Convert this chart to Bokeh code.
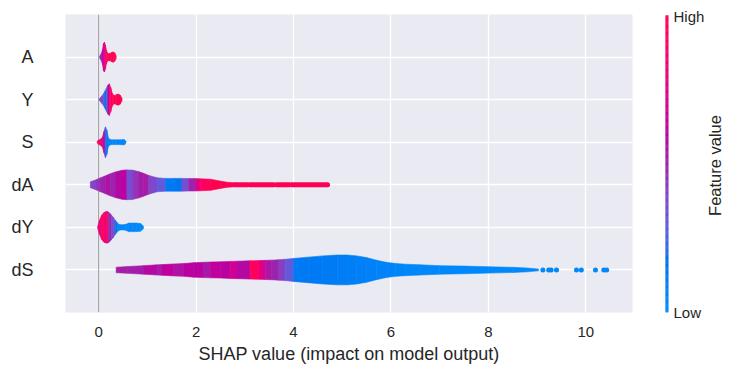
import math
import numpy as np
from bokeh.plotting import figure
from bokeh.models import ColumnDataSource, FixedTicker, Span, Range1d
from bokeh.transform import linear_cmap
from bokeh.layouts import row
from bokeh.core.properties import value
from bokeh.embed import file_html
from bokeh.resources import INLINE

# ---------------- data ----------------
features = ["dS", "dY", "dA", "S", "Y", "A"]          # bottom -> top
x_ticks = [0, 2, 4, 6, 8, 10]
x_label = "SHAP value (impact on model output)"
cbar_low, cbar_high, cbar_title = "Low", "High", "Feature value"

# violin outlines: SHAP value, half width, colour (feature value 0..1) per segment
A_x = [0.02, 0.05, 0.08, 0.10, 0.12, 0.14, 0.16, 0.18, 0.21, 0.24, 0.27, 0.30, 0.33, 0.36]
A_w = [0.02, 0.07, 0.17, 0.32, 0.35, 0.28, 0.16, 0.10, 0.08, 0.09, 0.11, 0.12, 0.10, 0.03]
A_c = [0.45, 0.5, 0.6, 0.7, 0.8, 0.9, 0.95, 1.0, 1.0, 1.0, 1.0, 1.0, 1.0]

Y_x = [0.01, 0.04, 0.07, 0.10, 0.13, 0.16, 0.19, 0.22, 0.25, 0.28, 0.31, 0.34, 0.37, 0.40, 0.44, 0.48]
Y_w = [0.01, 0.05, 0.09, 0.14, 0.20, 0.27, 0.34, 0.37, 0.28, 0.15, 0.10, 0.10, 0.12, 0.13, 0.11, 0.03]
Y_c = [0.4, 0.4, 0.35, 0.25, 0.15, 0.3, 0.6, 0.85, 0.95, 1.0, 1.0, 1.0, 1.0, 1.0, 1.0]

S_x = [-0.03, 0.0, 0.04, 0.08, 0.11, 0.14, 0.17, 0.20, 0.24, 0.28, 0.35, 0.42, 0.48, 0.53, 0.56]
S_w = [0.02, 0.05, 0.07, 0.12, 0.25, 0.36, 0.28, 0.10, 0.06, 0.055, 0.055, 0.055, 0.06, 0.06, 0.02]
S_c = [0.9, 0.9, 0.8, 0.7, 0.5, 0.2, 0.1, 0.08, 0.05, 0.03, 0.03, 0.03, 0.03, 0.03]

dA_x = [-0.17, -0.07, 0.03, 0.14, 0.24, 0.34, 0.48, 0.58, 0.69, 0.82, 0.92, 1.03, 1.2, 1.37,
        1.57, 1.71, 1.85, 1.99, 2.09, 2.3, 2.5, 2.64, 2.81]
dA_w = [0.07, 0.11, 0.16, 0.21, 0.26, 0.30, 0.34, 0.35, 0.345, 0.31, 0.27, 0.22, 0.165, 0.15,
        0.15, 0.15, 0.145, 0.145, 0.14, 0.13, 0.086, 0.06, 0.045]
dA_c = [0.38, 0.45, 0.5, 0.56, 0.5, 0.58, 0.6, 0.35, 0.45, 0.53, 0.53, 0.38, 0.3, 0.12,
        0.15, 0.35, 0.5, 0.75, 0.95, 1.0, 1.0, 1.0]
# dA outlier tail (runs of dots)
dA_tail_start = [2.81, 3.10, 3.65, 3.96]
dA_tail_end = [3.05, 3.59, 3.91, 4.70]
dA_tail_c = [0.98, 0.98, 0.98, 0.98]

dY_x = [-0.02, 0.02, 0.06, 0.10, 0.13, 0.16, 0.18, 0.20, 0.23, 0.26, 0.30, 0.34, 0.38, 0.42,
        0.46, 0.50, 0.54, 0.58, 0.62, 0.70, 0.78, 0.86, 0.92]
dY_w = [0.02, 0.17, 0.28, 0.34, 0.36, 0.37, 0.37, 0.36, 0.33, 0.29, 0.24, 0.17, 0.11, 0.07,
        0.06, 0.06, 0.065, 0.08, 0.10, 0.10, 0.10, 0.09, 0.03]
dY_c = [0.8, 0.8, 0.95, 0.95, 0.8, 0.8, 0.95, 0.5, 0.5, 0.38, 0.35, 0.15, 0.03, 0.03,
        0.03, 0.03, 0.03, 0.03, 0.03, 0.03, 0.03, 0.03]

dS_x = [0.36, 0.6, 0.92, 1.2, 1.3, 1.54, 1.75, 1.95, 2.16, 2.29, 2.5, 2.7, 2.84, 3.11, 3.29,
        3.42, 3.55, 3.70, 3.83, 4.0, 4.3, 4.6, 4.9, 5.1, 5.3, 5.5, 5.7, 5.9, 6.1, 6.3, 6.6,
        7.0, 7.5, 8.0, 8.5, 8.8, 9.03]
dS_w = [0.065, 0.08, 0.10, 0.12, 0.125, 0.14, 0.15, 0.17, 0.18, 0.185, 0.19, 0.20, 0.205,
        0.215, 0.22, 0.225, 0.23, 0.24, 0.25, 0.27, 0.30, 0.33, 0.35, 0.35, 0.33, 0.29, 0.23,
        0.18, 0.15, 0.135, 0.12, 0.10, 0.09, 0.075, 0.06, 0.045, 0.02]
dS_c = [0.52, 0.52, 0.58, 0.54, 0.62, 0.56, 0.6, 0.59, 0.54, 0.62, 0.6, 0.68, 0.58, 0.95, 0.75,
        0.55, 0.5, 0.42, 0.3, 0.12, 0.12, 0.11, 0.10, 0.09, 0.08, 0.07, 0.06, 0.05, 0.04,
        0.03, 0.03, 0.02, 0.02, 0.02, 0.02, 0.02]
# dS outlier dots
dS_dots = [9.12, 9.24, 9.29, 9.40, 9.81, 9.91, 10.20, 10.37, 10.43]
dS_dots_c = [0.02] * len(dS_dots)

profiles = {"A": (A_x, A_w, A_c), "Y": (Y_x, Y_w, Y_c), "S": (S_x, S_w, S_c),
            "dA": (dA_x, dA_w, dA_c), "dY": (dY_x, dY_w, dY_c), "dS": (dS_x, dS_w, dS_c)}

# ---------------- SHAP red_blue colormap (LCH interpolation) ----------------
def lch2rgb(L, C, h):
    a, b = C * math.cos(h), C * math.sin(h)
    fy = (L + 16) / 116
    fx, fz = fy + a / 500, fy - b / 200
    finv = lambda t: t ** 3 if t > 6 / 29 else 3 * (6 / 29) ** 2 * (t - 4 / 29)
    X, Yv, Z = 0.95047 * finv(fx), finv(fy), 1.08883 * finv(fz)
    r = 3.2406 * X - 1.5372 * Yv - 0.4986 * Z
    g = -0.9689 * X + 1.8758 * Yv + 0.0415 * Z
    bb = 0.0557 * X - 0.2040 * Yv + 1.0570 * Z
    def gam(c):
        c = min(max(c, 0.0), 1.0)
        return 12.92 * c if c <= 0.0031308 else 1.055 * c ** (1 / 2.4) - 0.055
    return tuple(int(round(gam(c) * 255)) for c in (r, g, bb))

nsteps = 256
l_vals = list(np.linspace(54., 40., nsteps // 2)) + list(np.linspace(40., 54., nsteps // 2))
c_vals = np.linspace(70., 90., nsteps)
h_vals = np.linspace(4.6588, 0.35470565 + 2 * np.pi, nsteps)
palette = ["#%02x%02x%02x" % lch2rgb(l, c, h) for l, c, h in zip(l_vals, c_vals, h_vals)]

FONT = "Liberation Sans"
TXT = "#262626"
YLIM = (-1, len(features))
TOP, BOTTOM, H = 14, 62, 374

# ---------------- main plot ----------------
p = figure(width=634, height=H, x_range=Range1d(-0.68, 10.96), y_range=Range1d(*YLIM),
           output_backend="svg", toolbar_location=None,
           background_fill_color="#eaeaf2", border_fill_color="white", outline_line_color=None,
           min_border_left=65, min_border_right=2, min_border_top=TOP, min_border_bottom=BOTTOM)

p.xaxis.ticker = FixedTicker(ticks=x_ticks)
p.yaxis.ticker = FixedTicker(ticks=list(range(len(features))))
p.yaxis.major_label_overrides = {i: f for i, f in enumerate(features)}
for ax in p.axis:
    ax.axis_line_color = None
    ax.major_tick_line_color = None
    ax.minor_tick_line_color = None
    ax.major_tick_out = 0
    ax.major_tick_in = 0
    ax.minor_tick_out = 0
    ax.minor_tick_in = 0
    ax.major_label_text_font = FONT
    ax.major_label_text_color = TXT
p.xaxis.major_label_text_font_size = "15px"
p.yaxis.major_label_text_font_size = "18px"
p.xaxis.major_label_standoff = 14
p.yaxis.major_label_standoff = 32
p.xaxis.axis_label = x_label
p.xaxis.axis_label_text_font = FONT
p.xaxis.axis_label_text_font_size = "18px"
p.xaxis.axis_label_text_font_style = "normal"
p.xaxis.axis_label_text_color = TXT
p.xaxis.axis_label_standoff = 4
p.grid.grid_line_color = "white"
p.grid.grid_line_width = 1.3

p.add_layout(Span(location=0, dimension="height", line_color="#999999", line_width=1,
                  level="underlay"))

cmap = linear_cmap("v", palette, 0, 1)

xs, ys, vs = [], [], []
for pos, feat in enumerate(features):
    fx, fw, fc = profiles[feat]
    for i in range(len(fx) - 1):
        xs.append([fx[i], fx[i + 1], fx[i + 1], fx[i]])
        ys.append([pos - fw[i], pos - fw[i + 1], pos + fw[i + 1], pos + fw[i]])
        vs.append(fc[i])
src = ColumnDataSource(dict(xs=xs, ys=ys, v=vs))
p.patches("xs", "ys", source=src, fill_color=cmap, line_color=cmap, line_width=0.6)

pos_dA = features.index("dA")
tail = ColumnDataSource(dict(x0=dA_tail_start, x1=dA_tail_end,
                             y=[pos_dA] * len(dA_tail_start), v=dA_tail_c))
p.segment(x0="x0", y0="y", x1="x1", y1="y", source=tail, line_color=cmap,
          line_width=5, line_cap="round")

pos_dS = features.index("dS")
dots = ColumnDataSource(dict(x=dS_dots, y=[pos_dS] * len(dS_dots), v=dS_dots_c))
p.scatter("x", "y", source=dots, size=5, fill_color=cmap, line_color=None)

# ---------------- colour bar panel ----------------
# frame spans page x 634..671 (bar at its right edge); y in pixels of the frame height
FH = H - TOP - BOTTOM
cb = figure(width=73, height=H, x_range=Range1d(634, 671), y_range=Range1d(0, FH),
            x_axis_location=None, y_axis_location="right",
            output_backend="svg", toolbar_location=None, outline_line_color=None,
            min_border_left=0, min_border_right=36, min_border_top=TOP, min_border_bottom=BOTTOM,
            background_fill_color="white", border_fill_color="white")
cb.grid.visible = False
edges = np.linspace(0, FH - 1, len(palette) + 1)
cb.quad(left=668, right=671, bottom=edges[:-1], top=edges[1:], fill_color=palette,
        line_color=palette, line_width=0.5)
yax = cb.yaxis[0]
yax.ticker = FixedTicker(ticks=[0, FH - 2])
yax.major_label_overrides = {0: cbar_low, FH - 2: cbar_high}
yax.axis_line_color = None
yax.major_tick_line_color = None
yax.minor_tick_line_color = None
yax.major_tick_out = 0
yax.major_tick_in = 0
yax.minor_tick_out = 0
yax.minor_tick_in = 0
yax.major_label_standoff = 5
yax.major_label_text_font = FONT
yax.major_label_text_font_size = "15px"
yax.major_label_text_color = TXT

# ---------------- colour bar title panel ----------------
lab = figure(width=25, height=H, x_range=Range1d(707, 732), y_range=Range1d(0, FH),
             x_axis_location=None, y_axis_location=None,
             output_backend="svg", toolbar_location=None, outline_line_color=None,
             min_border_left=0, min_border_right=0, min_border_top=TOP, min_border_bottom=BOTTOM,
             background_fill_color="white", border_fill_color="white")
lab.grid.visible = False
lab.text(x=[714.5], y=[FH / 2 - 2], text=[cbar_title], angle=math.pi / 2,
         text_font=value(FONT), text_font_size="16.5px", text_color=TXT,
         text_align="center", text_baseline="middle")

layout = row(p, cb, lab)
open("out.html", "w").write(file_html(layout, INLINE))
